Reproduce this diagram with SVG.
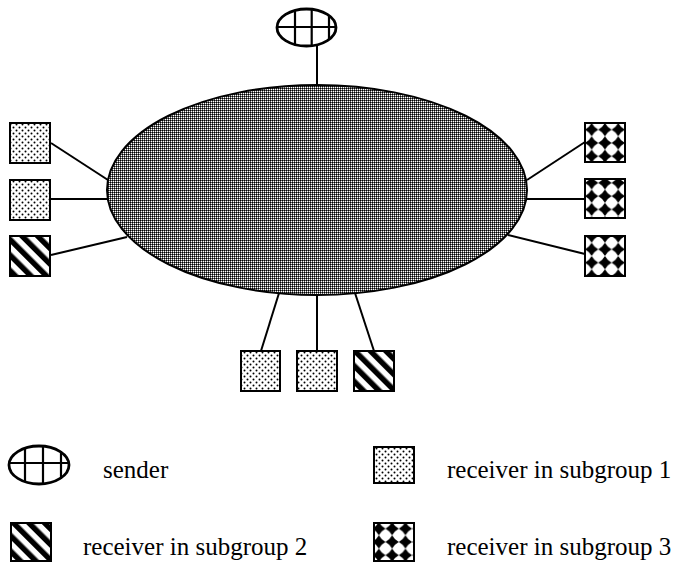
<svg xmlns="http://www.w3.org/2000/svg" width="674" height="564" viewBox="0 0 674 564">
<defs>
<pattern id="gray" width="2" height="2" patternUnits="userSpaceOnUse">
<rect width="2" height="2" fill="#5e5e5e"/>
<rect width="1" height="1" fill="#000"/>
<rect x="1" y="1" width="1" height="1" fill="#fff"/>
</pattern>
<pattern id="dots" width="6" height="6" patternUnits="userSpaceOnUse">
<rect width="6" height="6" fill="#fff"/>
<circle cx="1.5" cy="1.5" r="1" fill="#000"/>
<circle cx="4.5" cy="4.5" r="1" fill="#000"/>
</pattern>
<pattern id="stripes" width="11" height="11" patternUnits="userSpaceOnUse" patternTransform="rotate(-45)">
<rect width="11" height="11" fill="#fff"/>
<rect width="5.5" height="11" fill="#000"/>
</pattern>
<pattern id="diamonds" x="585" y="123" width="13.3" height="13.3" patternUnits="userSpaceOnUse">
<rect width="13.3" height="13.3" fill="#fff"/>
<path d="M6.65,0Q8.98,4.32 13.3,6.65Q8.98,8.98 6.65,13.3Q4.32,8.98 0,6.65Q4.32,4.32 6.65,0Z" fill="#000"/>
</pattern>
</defs>
<style>
.ln{stroke:#000;stroke-width:2;fill:none}
.sq{stroke:#000;stroke-width:2}
.s1{fill:url(#dots)}
.s2{fill:url(#stripes)}
.s3{fill:url(#diamonds)}
.snd{fill:#fff;stroke:#000;stroke-width:2.8}
.grid{stroke:#000;stroke-width:2.2;fill:none}
.lbl{font-family:"Liberation Serif","Times New Roman",serif;font-size:25px;fill:#000}
</style>
<g id="connectors">
<line class="ln" x1="317" y1="46" x2="317" y2="85"/>
<line class="ln" x1="51" y1="143" x2="108" y2="180"/>
<line class="ln" x1="51" y1="199" x2="107" y2="199"/>
<line class="ln" x1="51" y1="255" x2="127" y2="237"/>
<line class="ln" x1="585" y1="142" x2="527" y2="180"/>
<line class="ln" x1="585" y1="199" x2="527" y2="199"/>
<line class="ln" x1="585" y1="254" x2="508" y2="235"/>
<line class="ln" x1="261" y1="351" x2="279" y2="293"/>
<line class="ln" x1="317" y1="351" x2="317" y2="295"/>
<line class="ln" x1="374" y1="351" x2="355" y2="293"/>
</g>
<g id="network">
<ellipse cx="317" cy="190" rx="210" ry="105" fill="url(#gray)" stroke="#000" stroke-width="2"/>
</g>
<g id="sender">
<ellipse class="snd" cx="306.5" cy="27.5" rx="29.5" ry="18.5"/>
<path class="grid" d="M295,10.5V45.5M311.7,9V46M329,15V40M277,27H336"/>
</g>
<g id="left1"><rect class="sq s1" x="10" y="123" width="40" height="40"/></g>
<g id="left2"><rect class="sq s1" x="10" y="180" width="40" height="40"/></g>
<g id="left3"><rect class="sq s2" x="10" y="236" width="40" height="40"/></g>
<g id="right1"><rect class="sq s3" x="585" y="123" width="40" height="39"/></g>
<g id="right2"><rect class="sq s3" x="585" y="179" width="40" height="39"/></g>
<g id="right3"><rect class="sq s3" x="585" y="236" width="40" height="40"/></g>
<g id="bottom1"><rect class="sq s1" x="241" y="351" width="39" height="40"/></g>
<g id="bottom2"><rect class="sq s1" x="297" y="351" width="40" height="40"/></g>
<g id="bottom3"><rect class="sq s2" x="354" y="351" width="40" height="40"/></g>
<g id="legend-sender">
<ellipse class="snd" cx="39" cy="465" rx="30" ry="19"/>
<path class="grid" d="M25,448.5V481.5M43,446V484M61,451V479M9,463H69"/>
<text class="lbl" x="103" y="478">sender</text>
</g>
<g id="legend-sub1">
<rect class="sq s1" x="374" y="447" width="40" height="36"/>
<text class="lbl" x="447" y="478">receiver in subgroup 1</text>
</g>
<g id="legend-sub2">
<rect class="sq s2" x="11" y="523" width="40" height="38"/>
<text class="lbl" x="83" y="555">receiver in subgroup 2</text>
</g>
<g id="legend-sub3">
<rect class="sq s3" x="374" y="523" width="40" height="38"/>
<text class="lbl" x="447" y="555">receiver in subgroup 3</text>
</g>
</svg>
